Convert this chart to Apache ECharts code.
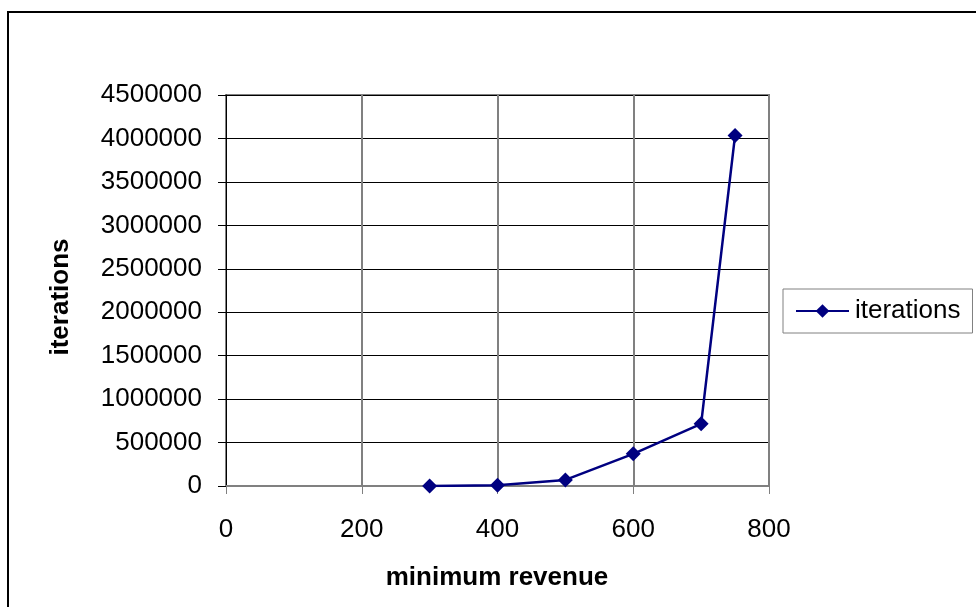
<!DOCTYPE html>
<html>
<head>
<meta charset="utf-8">
<script src="https://cdn.jsdelivr.net/npm/echarts@6/dist/echarts.min.js"></script>
<style>
  html, body { margin: 0; padding: 0; background: #fff; }
  #chart { width: 976px; height: 607px; }
</style>
</head>
<body>
<div id="chart"></div>
<script>
// minimum revenue vs. number of search iterations
const revenue = [300, 400, 500, 600, 700, 750];
const iterations = [1000, 10000, 70000, 370000, 715000, 4035000];
const seriesName = 'iterations';
const xTitle = 'minimum revenue';
const yTitle = 'iterations';

const FONT = '"Liberation Sans", Arial, sans-serif';
const chart = echarts.init(document.getElementById('chart'), null, { renderer: 'canvas' });

chart.setOption({
  animation: false,
  backgroundColor: '#ffffff',
  textStyle: { fontFamily: FONT },
  grid: {
    left: 226, top: 95, width: 543, height: 391,
    show: true, borderColor: '#808080', borderWidth: 2, backgroundColor: 'transparent'
  },
  graphic: [
    {
      type: 'rect', silent: true, z: -1,
      shape: { x: 8, y: 12, width: 1000, height: 1000 },
      style: { fill: 'transparent', stroke: '#000', lineWidth: 2 }
    },
    {
      type: 'text', silent: true,
      x: 497, y: 578,
      style: {
        text: xTitle, x: 0, y: 0, align: 'center', verticalAlign: 'middle',
        font: 'bold 26px ' + FONT, fill: '#000'
      }
    },
    {
      type: 'text', silent: true,
      x: 61, y: 297, rotation: Math.PI / 2,
      style: {
        text: yTitle, x: 0, y: 0, align: 'center', verticalAlign: 'middle',
        font: 'bold 26px ' + FONT, fill: '#000'
      }
    }
  ],
  legend: {
    left: 783, top: 289,
    width: 190,
    padding: [9, 12, 9, 12],
    borderColor: '#808080', borderWidth: 1,
    itemWidth: 53, itemHeight: 17,
    textStyle: { fontSize: 26, fontFamily: FONT, color: '#000', padding: [0, 0, 0, 1] },
    data: [seriesName]
  },
  xAxis: {
    type: 'value', min: 0, max: 800, interval: 200,
    axisLine: { show: true, lineStyle: { color: '#808080', width: 2 } },
    axisTick: { show: true, length: 8, lineStyle: { color: '#808080', width: 1 } },
    axisLabel: { fontSize: 26, fontFamily: FONT, color: '#000', margin: 31 },
    splitLine: { show: true, lineStyle: { color: '#808080', width: 2 } }
  },
  yAxis: {
    type: 'value', min: 0, max: 4500000, interval: 500000,
    axisLine: { show: true, lineStyle: { color: '#000', width: 1 } },
    axisTick: { show: true, length: 8, lineStyle: { color: '#000', width: 1 } },
    axisLabel: {
      fontSize: 26, fontFamily: FONT, color: '#000', margin: 24,
      formatter: v => String(v)
    },
    splitLine: { show: true, lineStyle: { color: '#000', width: 1 } }
  },
  series: [{
    name: seriesName,
    type: 'line',
    data: revenue.map((r, i) => [r, iterations[i]]),
    symbol: 'diamond', symbolSize: 15,
    lineStyle: { color: '#000080', width: 2.5 },
    itemStyle: { color: '#000080' },
    z: 5
  }]
});
</script>
</body>
</html>
